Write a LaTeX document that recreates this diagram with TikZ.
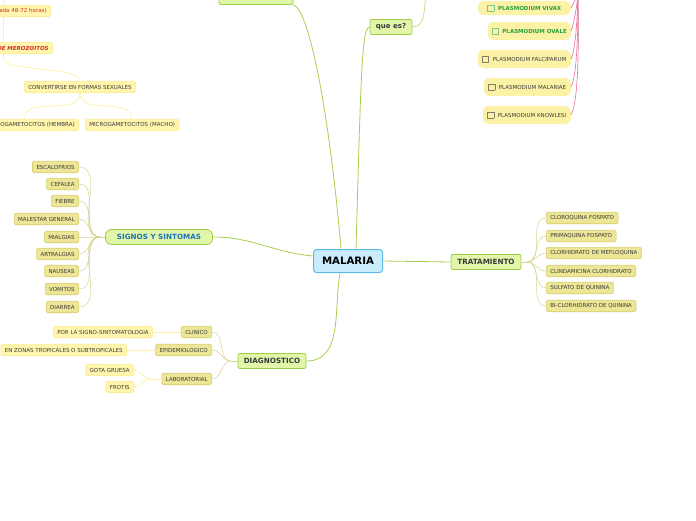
\documentclass[tikz,border=0pt]{standalone}
\usepackage{fontspec}
\setmainfont{DejaVu Sans}
\usetikzlibrary{calc}
\definecolor{mapblue}{RGB}{202,236,252}
\definecolor{blueedge}{RGB}{92,184,230}
\definecolor{greenfill}{RGB}{225,246,168}
\definecolor{greenedge}{RGB}{160,203,70}
\definecolor{greenline}{RGB}{166,206,80}
\definecolor{leaffill}{RGB}{236,230,150}
\definecolor{leafedge}{RGB}{214,206,110}
\definecolor{leafline}{RGB}{216,210,145}
\definecolor{palefill}{RGB}{255,245,172}
\definecolor{paleedge}{RGB}{250,236,150}
\definecolor{paleline}{RGB}{252,240,170}
\definecolor{plfill}{RGB}{251,242,165}
\definecolor{pinkline}{RGB}{224,112,138}
\definecolor{darktext}{RGB}{58,58,58}
\definecolor{signblue}{RGB}{30,116,184}
\definecolor{redtext}{RGB}{208,48,48}
\definecolor{greentext}{RGB}{40,160,64}
\definecolor{boxgray}{RGB}{130,125,100}
\newcommand{\chkbox}[1]{\raisebox{-0.6pt}{\color{#1}\fboxsep=0pt\fboxrule=0.6pt\fbox{\rule{0pt}{5.5pt}\hspace{5.5pt}}}\hspace{2pt}}
\tikzset{
    central/.style={draw=blueedge, fill=mapblue, line width=1pt, rounded corners=3pt,
        font=\fontsize{10.2}{12}\selectfont\bfseries, minimum height=23, minimum width=69, inner xsep=6},
    topic/.style={draw=greenedge, fill=greenfill, line width=0.8pt, rounded corners=2pt,
        font=\fontsize{7.2}{8}\selectfont\bfseries, text=darktext, minimum height=15, inner xsep=5, inner ysep=0},
    leaf/.style={draw=leafedge, fill=leaffill, line width=0.6pt, rounded corners=1.5pt,
        font=\fontsize{5.5}{6}\selectfont, text=darktext, minimum height=11.5, inner xsep=4, inner ysep=0},
    subleaf/.style={draw=paleedge, fill=palefill, line width=0.6pt, rounded corners=1.5pt,
        font=\fontsize{5.5}{6}\selectfont, text=darktext, minimum height=11.5, inner xsep=4, inner ysep=0},
    plasm/.style={fill=plfill, rounded corners=6pt, font=\fontsize{5.5}{6}\selectfont,
        text=darktext, minimum height=18, inner xsep=4, inner ysep=0, anchor=east},
    mainline/.style={draw=greenline, line width=0.8pt},
    thinline/.style={draw=leafline, line width=0.5pt},
    paleconn/.style={draw=paleline, line width=0.7pt},
    pinkconn/.style={draw=pinkline, line width=0.6pt},
}

\begin{document}
\begin{tikzpicture}[x=1pt, y=1pt]
    \useasboundingbox (0,0) rectangle (696,-520);
    \clip (0,0) rectangle (696,-520);

    % Central idea
    \node[central] (malaria) at (348,-261) {MALARIA};

    % Main topics
    \node[topic, minimum width=70] (tratamiento) at (486,-262) {TRATAMIENTO};
    \node[topic, text=signblue, rounded corners=6pt, minimum width=107] (signos) at (159,-237) {SIGNOS Y SINTOMAS};
    \node[topic, minimum width=68] (diagnostico) at (272,-361) {DIAGNOSTICO};
    \node[topic, font=\fontsize{7}{8}\selectfont\bfseries, minimum width=42] (quees) at (391,-27) {que es?};
    \node[topic, minimum width=73] (infecta) at (256,3) {como se infecta};

    \draw[mainline] (malaria.east) -- (tratamiento.west);
    \draw[mainline] (malaria.west) ++(0,5) to[out=175,in=0] (signos.east);
    \draw[mainline] (malaria.south) ++(-8,0) to[out=-100,in=0] (diagnostico.east);
    \draw[mainline] (malaria.north) ++(-7,0) .. controls (330,-120) and (310,-10) .. (infecta.south east);
    \draw[mainline] (malaria.north) ++(8,0) .. controls (361,-70) and (362,-27) .. (quees.west);
    \coordinate (quesup) at (426,6);
    \draw[paleconn, draw=greenline!70] (quees.east) to[out=0,in=-100] (quesup);

    % Signos y sintomas
    \coordinate (sighub) at (100,-237);
    \draw[thinline] (signos.west) -- (sighub);
    \foreach [count=\i] \txt/\y in {ESCALOFRIOS/167, CEFALEA/184, FIEBRE/201, MALESTAR GENERAL/219,
        MIALGIAS/237, ARTRALGIAS/254, NAUSEAS/271, VOMITOS/289, DIARREA/307} {
        \node[leaf, anchor=east] (sig\i) at (79,-\y) {\txt};
        \draw[thinline] (sighub) to[out=180,in=0] (sig\i.east);
    }

    % Tratamiento
    \coordinate (trathub) at (527,-262);
    \draw[thinline] (tratamiento.east) -- (trathub);
    \foreach [count=\i] \txt/\y in {CLOROQUINA FOSPATO/218, PRIMAQUINA FOSPATO/236,
        CLORHIDRATO DE MEFLOQUINA/253, CLINDAMICINA CLORHIDRATO/271,
        SULFATO DE QUININA/288, BI-CLORHIDRATO DE QUININA/306} {
        \node[leaf, anchor=west] (trat\i) at (546,-\y) {\txt};
        \draw[thinline] (trathub) to[out=0,in=180] (trat\i.west);
    }

    % Diagnostico
    \coordinate (diaghub) at (231,-361);
    \node[leaf, anchor=east] (clinico) at (212,-332) {CLINICO};
    \node[leaf, anchor=east] (epidem) at (212,-350) {EPIDEMIOLOGICO};
    \node[leaf, anchor=east] (labor) at (212,-379) {LABORATORIAL};
    \node[subleaf, anchor=east] (signosint) at (153,-332) {POR LA SIGNO-SINTOMATOLOGIA};
    \node[subleaf, anchor=east] (zonas) at (127,-350) {EN ZONAS TROPICALES O SUBTROPICALES};
    \node[subleaf, anchor=east] (gota) at (134,-370) {GOTA GRUESA};
    \node[subleaf, anchor=east] (frotis) at (134,-387) {FROTIS};
    \coordinate (labhub) at (150,-379);

    \draw[thinline] (diagnostico.west) -- (diaghub);
    \foreach \n in {clinico, epidem, labor} {
        \draw[thinline] (diaghub) to[out=180,in=0] (\n.east);
    }
    \draw[paleconn] (clinico.west) -- (signosint.east);
    \draw[paleconn] (epidem.west) -- (zonas.east);
    \draw[paleconn] (labor.west) -- (labhub);
    \draw[paleconn] (labhub) to[out=180,in=0] (gota.east);
    \draw[paleconn] (labhub) to[out=180,in=0] (frotis.east);

    % Ciclo (arriba a la izquierda)
    \coordinate (trunktop) at (3,5);
    \coordinate (trunkend) at (3,-58);
    \draw[paleconn] (trunktop) -- (trunkend);
    \node[subleaf, text=redtext, anchor=east, text width=70, align=right] (ciclo) at (51,-11) {(cada 48-72 horas)};
    \node[subleaf, text=redtext, anchor=east, text width=70, align=right,
        font=\fontsize{5.5}{6}\selectfont\bfseries\itshape] (meroz) at (53,-48) {DE MEROZOITOS};
    \node[subleaf] (convertir) at (80,-87) {CONVERTIRSE EN FORMAS SEXUALES};
    \node[subleaf, anchor=east] (hembra) at (79,-125) {MACROGAMETOCITOS (HEMBRA)};
    \node[subleaf, anchor=west] (macho) at (85,-125) {MICROGAMETOCITOS (MACHO)};
    \draw[paleconn] (trunkend) .. controls (3,-72) and (80,-66) .. (convertir.north);
    \draw[paleconn] (convertir.south) to[out=-90,in=90] ($(hembra.north)+(-5,0)$);
    \draw[paleconn] (convertir.south) to[out=-90,in=90] (macho.north);

    % Especies de Plasmodium
    \coordinate (plroot) at (578,8);
    \node[plasm, text=greentext, font=\fontsize{5.5}{6}\selectfont\bfseries, minimum width=93, minimum height=14] (vivax) at (571,-8) {\chkbox{greentext!60} PLASMODIUM VIVAX};
    \node[plasm, text=greentext, font=\fontsize{5.5}{6}\selectfont\bfseries, minimum width=83] (ovale) at (571,-31) {\chkbox{greentext!60} PLASMODIUM OVALE};
    \node[plasm, minimum width=93] (falcip) at (571,-59) {\chkbox{boxgray} PLASMODIUM FALCIPARUM};
    \node[plasm, minimum width=87] (malariae) at (571,-87) {\chkbox{boxgray} PLASMODIUM MALARIAE};
    \node[plasm, minimum width=88] (knowlesi) at (571,-115) {\chkbox{boxgray} PLASMODIUM KNOWLESI};
    \foreach \n in {vivax, ovale, falcip, malariae, knowlesi} {
        \draw[pinkconn] (\n.east) to[out=60,in=-90,looseness=0.4] (plroot);
    }
\end{tikzpicture}
\end{document}
